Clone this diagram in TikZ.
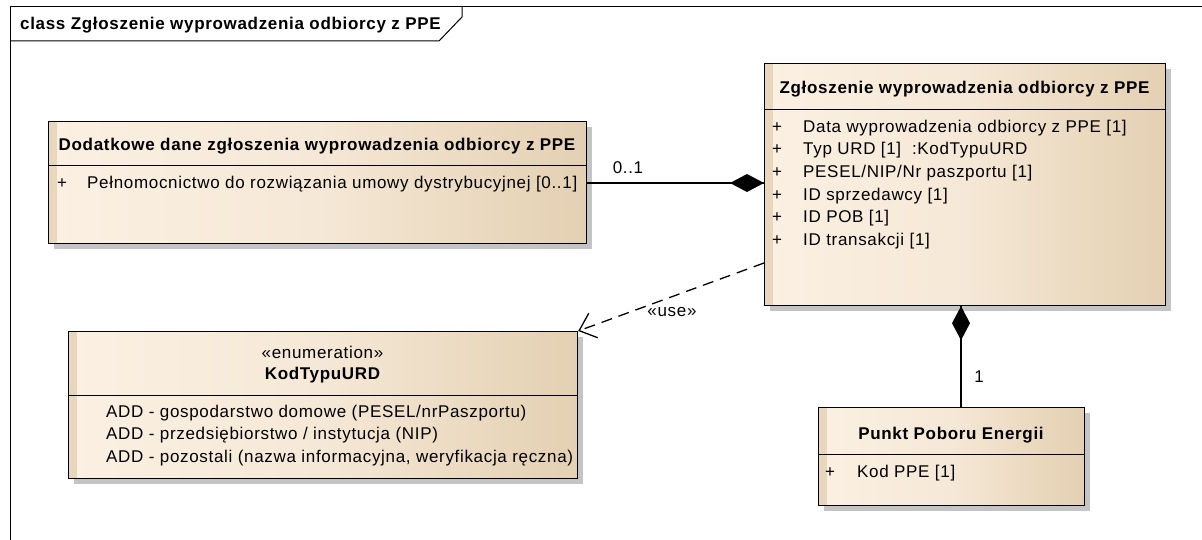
\documentclass[tikz,border=0pt]{standalone}
\usepackage{fontspec}
\setmainfont[LetterSpace=4]{Liberation Sans}
\usetikzlibrary{arrows.meta,calc,shadows}
\definecolor{cream}{HTML}{FBF0E2}
\definecolor{tan}{HTML}{E4D0B2}
\definecolor{strip}{HTML}{E8D7BC}
\definecolor{shadowgray}{HTML}{C4C4C4}
\begin{document}
\begin{tikzpicture}[x=1pt,y=-1pt,
  every node/.style={font=\fontsize{17}{20}\selectfont},
  classbox/.style={draw=black, line width=1.2pt, anchor=north west, inner sep=0pt,
    left color=cream, right color=tan, middle color=cream!75!tan,
    general shadow={fill=shadowgray, shadow xshift=5pt, shadow yshift=-5pt},
    path picture={\fill[strip] (path picture bounding box.north west) rectangle ([xshift=8pt]path picture bounding box.south west);}},
  hdr/.style={font=\fontsize{17}{20}\selectfont\bfseries, inner sep=0pt},
  attr/.style={anchor=west, inner sep=0pt},
  plus/.style={inner sep=0pt},
  sep/.style={line width=1pt},
  conn/.style={line width=1.3pt},
  lbl/.style={inner sep=0pt},
]
\useasboundingbox (0,0) rectangle (1202,540);
% frame
\draw[line width=1pt] (10.5,545) -- (10.5,7) -- (1202,7);
\draw[line width=1pt] (10.5,41) -- (439,41) -- (462,17) -- (462,7);
\node[hdr, anchor=west] (title) at (20,25) {class Zgłoszenie wyprowadzenia odbiorcy z PPE};

% box 1
\node[classbox, minimum width=538pt, minimum height=122pt] (b1) at (48,121) {};
\draw[sep] (b1.west |- 0,166) -- (b1.east |- 0,166);
\node[hdr] (b1h) at (317,146) {Dodatkowe dane zgłoszenia wyprowadzenia odbiorcy z PPE};
\node[plus] (b1p1) at (62,184) {+};
\node[attr] (b1a1) at (87,184) {Pełnomocnictwo do rozwiązania umowy dystrybucyjnej [0..1]};

% box 2
\node[classbox, minimum width=401pt, minimum height=242pt] (b2) at (764,63) {};
\draw[sep] (b2.west |- 0,110) -- (b2.east |- 0,110);
\node[hdr] (b2h) at (964.5,89) {Zgłoszenie wyprowadzenia odbiorcy z PPE};
\foreach \y/\t [count=\i] in {128/{Data wyprowadzenia odbiorcy z PPE [1]},
    150/{Typ URD [1]\ \ :KodTypuURD},
    173/{PESEL/NIP/Nr paszportu [1]},
    196/{ID sprzedawcy [1]},
    218/{ID POB [1]},
    241/{ID transakcji [1]}}{
  \node[plus] (b2p\i) at (777,\y) {+};
  \node[attr] (b2a\i) at (803,\y) {\t};
}

% box 3
\node[classbox, minimum width=509pt, minimum height=147pt] (b3) at (68,331) {};
\draw[sep] (b3.west |- 0,395) -- (b3.east |- 0,395);
\node[lbl] (b3s) at (322.5,352) {«enumeration»};
\node[hdr] (b3h) at (322.5,375) {KodTypuURD};
\node[attr] (b3a1) at (106,413) {ADD - gospodarstwo domowe (PESEL/nrPaszportu)};
\node[attr] (b3a2) at (106,435) {ADD - przedsiębiorstwo / instytucja (NIP)};
\node[attr] (b3a3) at (106,458) {ADD - pozostali (nazwa informacyjna, weryfikacja ręczna)};

% box 4
\node[classbox, minimum width=266pt, minimum height=98pt] (b4) at (818,407) {};
\draw[sep] (b4.west |- 0,454) -- (b4.east |- 0,454);
\node[hdr] (b4h) at (951,435) {Punkt Poboru Energii};
\node[plus] (b4p1) at (830,473) {+};
\node[attr] (b4a1) at (857,473) {Kod PPE [1]};

% composition b1 -> b2
\coordinate (c1) at (0,183);
\draw[conn] (b1.east |- c1) -- (b2.west |- c1);
\fill (b2.west |- c1) -- ++(-17,-9) -- ++(-17,9) -- ++(17,9) -- cycle;
\node[lbl] (m1) at (628,168) {0..1};

% composition b4 -> b2
\coordinate (c2) at (961,0);
\draw[conn] (b2.south -| c2) -- (b4.north -| c2);
\fill (b2.south -| c2) -- ++(-9,17) -- ++(9,17) -- ++(9,-17) -- cycle;
\node[lbl] (m2) at (979,377) {1};

% dependency b2 -> b3
\coordinate (c3) at (0,263);
\draw[conn, dash pattern=on 11pt off 7pt, -{Straight Barb[length=15pt,width=26pt,line width=1.3pt]}] (b2.west |- c3) -- (b3.north east);
\node[lbl] (u) at (672,312) {«use»};
\end{tikzpicture}
\end{document}
